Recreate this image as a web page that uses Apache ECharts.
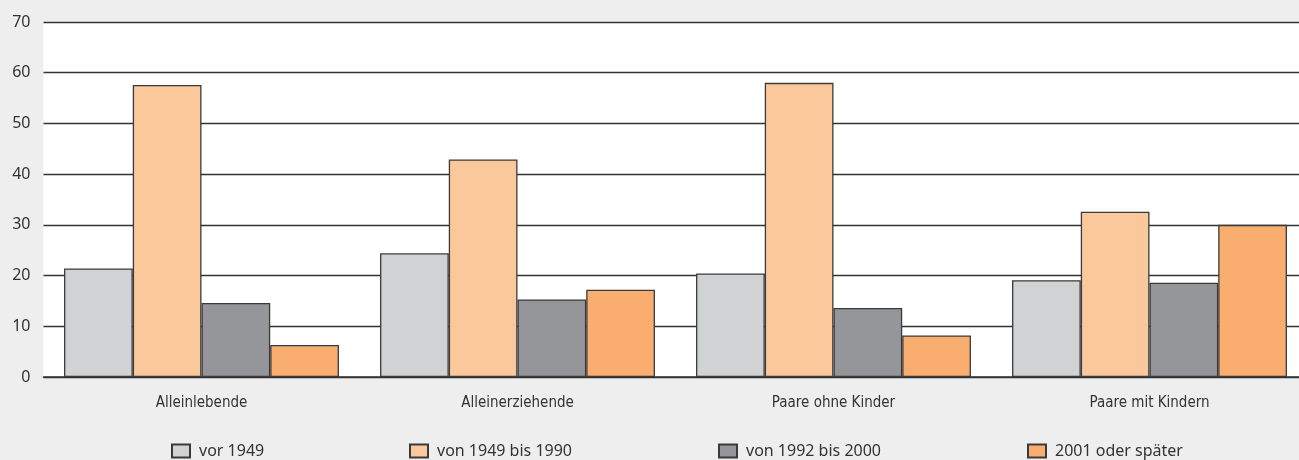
<!DOCTYPE html>
<html>
<head>
<meta charset="utf-8">
<script src="https://cdn.jsdelivr.net/npm/echarts@6/dist/echarts.min.js"></script>
<style>
html,body{margin:0;padding:0;background:#eeeeee;}
#chart{width:1299px;height:460px;}
</style>
</head>
<body>
<div id="chart"></div>
<script>
const categories = ['Alleinlebende', 'Alleinerziehende', 'Paare ohne Kinder', 'Paare mit Kindern'];
const seriesNames = ['vor 1949', 'von 1949 bis 1990', 'von 1992 bis 2000', '2001 oder später'];
const vor1949 = [21.4, 24.4, 20.4, 19.1];
const von1949bis1990 = [57.6, 42.9, 58.0, 32.6];
const von1992bis2000 = [14.6, 15.3, 13.6, 18.6];
const ab2001 = [6.3, 17.2, 8.2, 30.0];
const yTicks = [0, 10, 20, 30, 40, 50, 60, 70];

const colors = ['#d1d2d4', '#fbc89c', '#959699', '#f9ae6f'];
const values = [vor1949, von1949bis1990, von1992bis2000, ab2001];
const legendLefts = [166, 404, 713, 1022];

const chart = echarts.init(document.getElementById('chart'));
chart.setOption({
  backgroundColor: '#eeeeee',
  animation: false,
  grid: {
    left: 43.5, width: 1264, top: 22, height: 355,
    outerBoundsMode: 'none',
    containLabel: false,
    show: true, backgroundColor: '#ffffff', borderWidth: 0
  },
  legend: seriesNames.map((n, i) => ({
    data: [n],
    left: legendLefts[i],
    top: 438,
    itemWidth: 18,
    itemHeight: 13,
    icon: 'rect',
    textStyle: { fontFamily: 'Noto Sans', fontSize: 16, color: '#333', padding: [0, 0, 0, 4] }
  })),
  xAxis: {
    type: 'category',
    data: categories,
    axisLine: { lineStyle: { color: '#333', width: 1.5 } },
    axisTick: { show: false },
    axisLabel: {
      margin: 19,
      fontFamily: "'Liberation Sans Narrow', 'DejaVu Sans Condensed', 'Liberation Sans', sans-serif",
      fontSize: 15,
      color: '#333'
    }
  },
  yAxis: {
    type: 'value',
    min: yTicks[0],
    max: yTicks[yTicks.length - 1],
    interval: 10,
    axisLine: { show: false },
    axisTick: { show: false },
    splitLine: { lineStyle: { color: '#333', width: 1.3 } },
    axisLabel: { margin: 13, fontFamily: 'Noto Sans', fontSize: 16, color: '#333' }
  },
  series: seriesNames.map((n, i) => ({
    name: n,
    type: 'bar',
    data: values[i],
    barGap: '0%',
    barCategoryGap: '13%',
    itemStyle: { color: colors[i], borderColor: '#3a3a3a', borderWidth: 1.3 }
  }))
});
</script>
</body>
</html>
